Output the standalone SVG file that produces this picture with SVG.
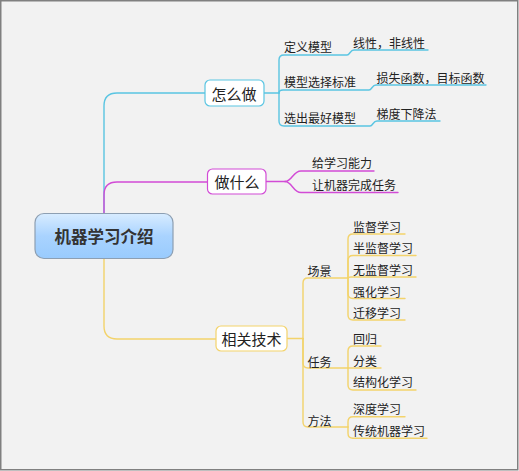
<svg xmlns="http://www.w3.org/2000/svg" width="519" height="471" viewBox="0 0 519 471">
<defs>
<linearGradient id="rootGrad" x1="0" y1="0" x2="0" y2="1">
<stop offset="0" stop-color="#d8ecff"/>
<stop offset="0.5" stop-color="#a9d3ff"/>
<stop offset="1" stop-color="#99cbfd"/>
</linearGradient>
<style>
text{font-family:"Noto Sans CJK SC","Noto Sans",sans-serif;fill:#222;dominant-baseline:central}
.t{font-size:12px}
.m{font-size:15px;text-anchor:middle}
.r{font-size:16.5px;font-weight:bold;text-anchor:middle;fill:#333}
.c{fill:none;stroke-width:1.4;stroke-linecap:round}
.cy{stroke:#5ac5e2}
.mg{stroke:#d24bd6}
.ye{stroke:#f3d36b}
.box{fill:#fff;stroke-width:1.2}
</style>
</defs>
<rect x="0.75" y="0.75" width="517" height="469" fill="#f2f2f2" stroke="#808080" stroke-width="1.5"/>
<g id="connectors">
<path class="c cy" d="M104,213 V106 Q104,93 117,93 H205"/>
<path class="c mg" d="M104,213 V195 Q104,182 117,182 H207"/>
<path class="c ye" d="M104,258 V326 Q104,339 117,339 H216"/>
<path class="c cy" d="M264,93 H279"/>
<path class="c cy" d="M279,93 V60 Q279,55 284,55 H347 C350,55 350,50 354,50 H428"/>
<path class="c cy" d="M279,93 Q279,90 283,90 H369 C372,90 372,85 376,85 H486"/>
<path class="c cy" d="M279,93 V121 Q279,126 284,126 H370 C373,126 373,121 377,121 H440"/>
<path class="c mg" d="M266,181.5 H285"/>
<path class="c mg" d="M285,181.5 C292,181.5 293,171 301,171 H374"/>
<path class="c mg" d="M285,181.5 C292,181.5 293,192.5 301,192.5 H398"/>
<path class="c ye" d="M287,338.5 H303"/>
<path class="c ye" d="M303,338.5 V283 Q303,278 308,278 H348"/>
<path class="c ye" d="M303,338.5 V363 Q303,368 308,368 H348"/>
<path class="c ye" d="M303,338.5 V422 Q303,427 308,427 H348"/>
<path class="c ye" d="M348,278 V239 Q348,234 353,234 H405"/>
<path class="c ye" d="M348,278 V260.5 Q348,255.5 353,255.5 H416"/>
<path class="c ye" d="M348,278 Q348,277 351,277 H416"/>
<path class="c ye" d="M348,278 V293.5 Q348,298.5 353,298.5 H405"/>
<path class="c ye" d="M348,278 V315 Q348,320 353,320 H405"/>
<path class="c ye" d="M348,368 V351 Q348,346 353,346 H381"/>
<path class="c ye" d="M348,368 H381"/>
<path class="c ye" d="M348,368 V385 Q348,390 353,390 H416"/>
<path class="c ye" d="M348,427 V421.7 Q348,416.7 353,416.7 H405"/>
<path class="c ye" d="M348,427 V433.3 Q348,438.3 353,438.3 H427"/>
</g>
<g id="root">
<rect x="35" y="213.5" width="138" height="45" rx="9" fill="url(#rootGrad)" stroke="#8d9fb2" stroke-width="1.2"/>
<text class="r" x="104" y="236">机器学习介绍</text>
</g>
<g id="how">
<rect class="box cy" x="205" y="80" width="59" height="26" rx="5"/>
<text class="m" x="234" y="93">怎么做</text>
</g>
<g id="what">
<rect class="box mg" x="207.5" y="169" width="58.5" height="25" rx="5"/>
<text class="m" x="237" y="181.5">做什么</text>
</g>
<g id="tech">
<rect class="box ye" x="216" y="326" width="71" height="25" rx="5"/>
<text class="m" x="251.5" y="338.5">相关技术</text>
</g>
<g id="how-children">
<text class="t" x="284" y="46.5">定义模型</text>
<text class="t" x="353" y="42.3">线性，非线性</text>
<text class="t" x="284" y="81.7">模型选择标准</text>
<text class="t" x="376.5" y="77.7">损失函数，目标函数</text>
<text class="t" x="284" y="117.3">选出最好模型</text>
<text class="t" x="376.5" y="113.3">梯度下降法</text>
</g>
<g id="what-children">
<text class="t" x="312" y="162.7">给学习能力</text>
<text class="t" x="312" y="184.3">让机器完成任务</text>
</g>
<g id="tech-children">
<text class="t" x="307.5" y="270">场景</text>
<text class="t" x="307.5" y="361.3">任务</text>
<text class="t" x="307.5" y="420">方法</text>
<text class="t" x="353" y="226">监督学习</text>
<text class="t" x="353" y="247.7">半监督学习</text>
<text class="t" x="353" y="269.3">无监督学习</text>
<text class="t" x="353" y="291">强化学习</text>
<text class="t" x="353" y="312.7">迁移学习</text>
<text class="t" x="353" y="338.3">回归</text>
<text class="t" x="353" y="360.7">分类</text>
<text class="t" x="353" y="381.7">结构化学习</text>
<text class="t" x="353" y="408.3">深度学习</text>
<text class="t" x="353" y="430">传统机器学习</text>
</g>
</svg>
